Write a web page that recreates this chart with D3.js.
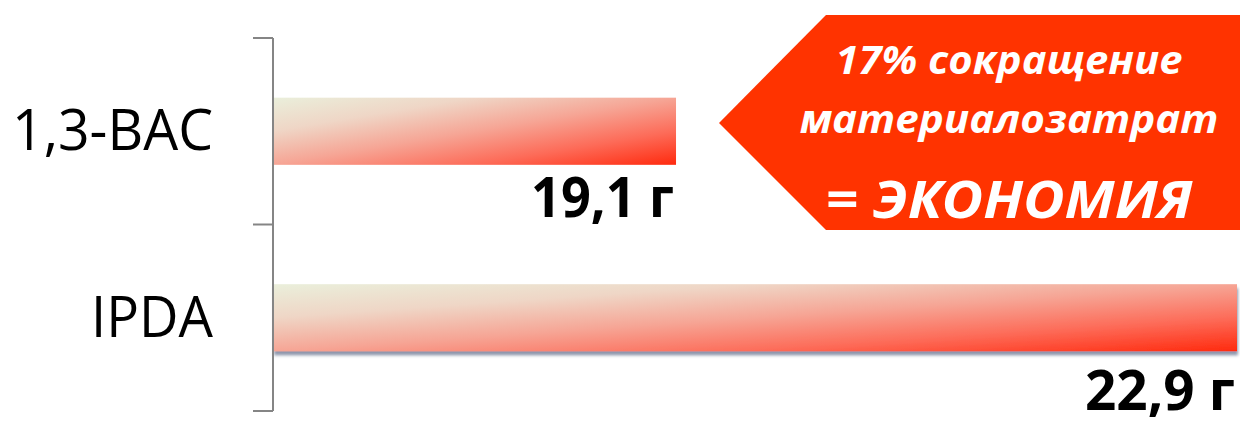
<!DOCTYPE html>
<html>
<head>
<meta charset="utf-8">
<script src="https://cdn.jsdelivr.net/npm/d3@7"></script>
<style>
html,body{margin:0;padding:0;background:#fff;}
svg{display:block;}
</style>
</head>
<body>
<svg id="chart" width="1240" height="421"></svg>
<script>
// ---- data ----
const categories = ["1,3-BAC", "IPDA"];
const values = [19.1, 22.9];
const valueLabels = ["19,1 г", "22,9 г"];
const calloutLines = ["17% сокращение", "материалозатрат", "= ЭКОНОМИЯ"];

// ---- layout ----
const W = 1240, H = 421;
const axisX = 273;
const svg = d3.select("#chart");

const x = d3.scaleLinear().domain([16.37, 22.9]).range([axisX, 1237]);
const y = d3.scaleBand().domain(categories).range([38, 411]).padding(0);
const barFrac = 0.36;
const labelDy = [52, 59];

const defs = svg.append("defs");
const grad = defs.append("linearGradient").attr("id", "barGrad")
  .attr("x1", 0).attr("y1", 0).attr("x2", 1).attr("y2", 1);
[[0, "#eaefdb"], [0.25, "#efd6c6"], [0.5, "#f6a595"], [0.75, "#fd6b58"], [1, "#ff2a0e"]]
  .forEach(([o, c]) => grad.append("stop").attr("offset", o).attr("stop-color", c));
const shadow = defs.append("filter").attr("id", "shadow")
  .attr("x", "-2%").attr("y", "-20%").attr("width", "104%").attr("height", "150%");
shadow.append("feDropShadow").attr("dx", 1).attr("dy", 4).attr("stdDeviation", 1.8)
  .attr("flood-color", "#5f6a88").attr("flood-opacity", 0.7);

// callout arrow
const calloutPts = [[719, 123], [826, 15], [1240, 15], [1240, 230], [826, 230]];
svg.append("polygon")
  .attr("points", calloutPts.map(p => p.join(",")).join(" "))
  .attr("fill", "#ff3300");

const calloutY = [74, 133, 218];
const calloutSize = [40, 40, 52];
const calloutLen = [347, 419, 367];
svg.append("g").selectAll("text").data(calloutLines).join("text")
  .attr("x", 1009).attr("y", (d, i) => calloutY[i])
  .attr("text-anchor", "middle")
  .attr("font-family", "'Open Sans', sans-serif")
  .attr("font-weight", 700).attr("font-style", "italic")
  .attr("font-size", (d, i) => calloutSize[i])
  .attr("textLength", (d, i) => calloutLen[i])
  .attr("lengthAdjust", "spacingAndGlyphs")
  .attr("fill", "#fff")
  .text(d => d);

// bars
const bh = y.bandwidth() * barFrac;
svg.append("g").selectAll("rect").data(values).join("rect")
  .attr("x", x(x.domain()[0]))
  .attr("y", (d, i) => y(categories[i]) + (y.bandwidth() - bh) / 2)
  .attr("width", d => x(d) - x(x.domain()[0]))
  .attr("height", bh)
  .attr("fill", "url(#barGrad)")
  .attr("filter", (d, i) => i === values.length - 1 ? "url(#shadow)" : null);

// axis
const axis = d3.axisLeft(y).tickSize(0).tickFormat("");
const gAxis = svg.append("g").attr("transform", `translate(${axisX},0)`).call(axis);
gAxis.select(".domain").remove();
gAxis.append("line").attr("x1", 0).attr("x2", 0).attr("y1", y.range()[0]).attr("y2", y.range()[1])
  .attr("stroke", "#858585").attr("stroke-width", 2);
const bounds = categories.map(c => y(c)).concat([y.range()[1]]);
gAxis.selectAll(".bnd").data(bounds).join("line").attr("class", "bnd")
  .attr("x1", -20).attr("x2", 0).attr("y1", d => d).attr("y2", d => d)
  .attr("stroke", "#858585").attr("stroke-width", 2);

// category labels
const catLen = [201, 122];
svg.append("g").selectAll("text").data(categories).join("text")
  .attr("x", 213)
  .attr("y", d => y(d) + y.bandwidth() / 2 + 19)
  .attr("text-anchor", "end")
  .attr("font-family", "'Open Sans', sans-serif")
  .attr("font-size", 57)
  .attr("textLength", (d, i) => catLen[i])
  .attr("lengthAdjust", "spacingAndGlyphs")
  .attr("fill", "#000")
  .text(d => d);

// value labels
const valLen = [143, 150];
svg.append("g").selectAll("text").data(values).join("text")
  .attr("x", d => x(d) - 2)
  .attr("y", (d, i) => y(categories[i]) + (y.bandwidth() + bh) / 2 + labelDy[i])
  .attr("text-anchor", "end")
  .attr("font-family", "'Open Sans', sans-serif")
  .attr("font-weight", 700)
  .attr("font-size", 56)
  .attr("textLength", (d, i) => valLen[i])
  .attr("lengthAdjust", "spacingAndGlyphs")
  .attr("fill", "#000")
  .text((d, i) => valueLabels[i]);
</script>
</body>
</html>
